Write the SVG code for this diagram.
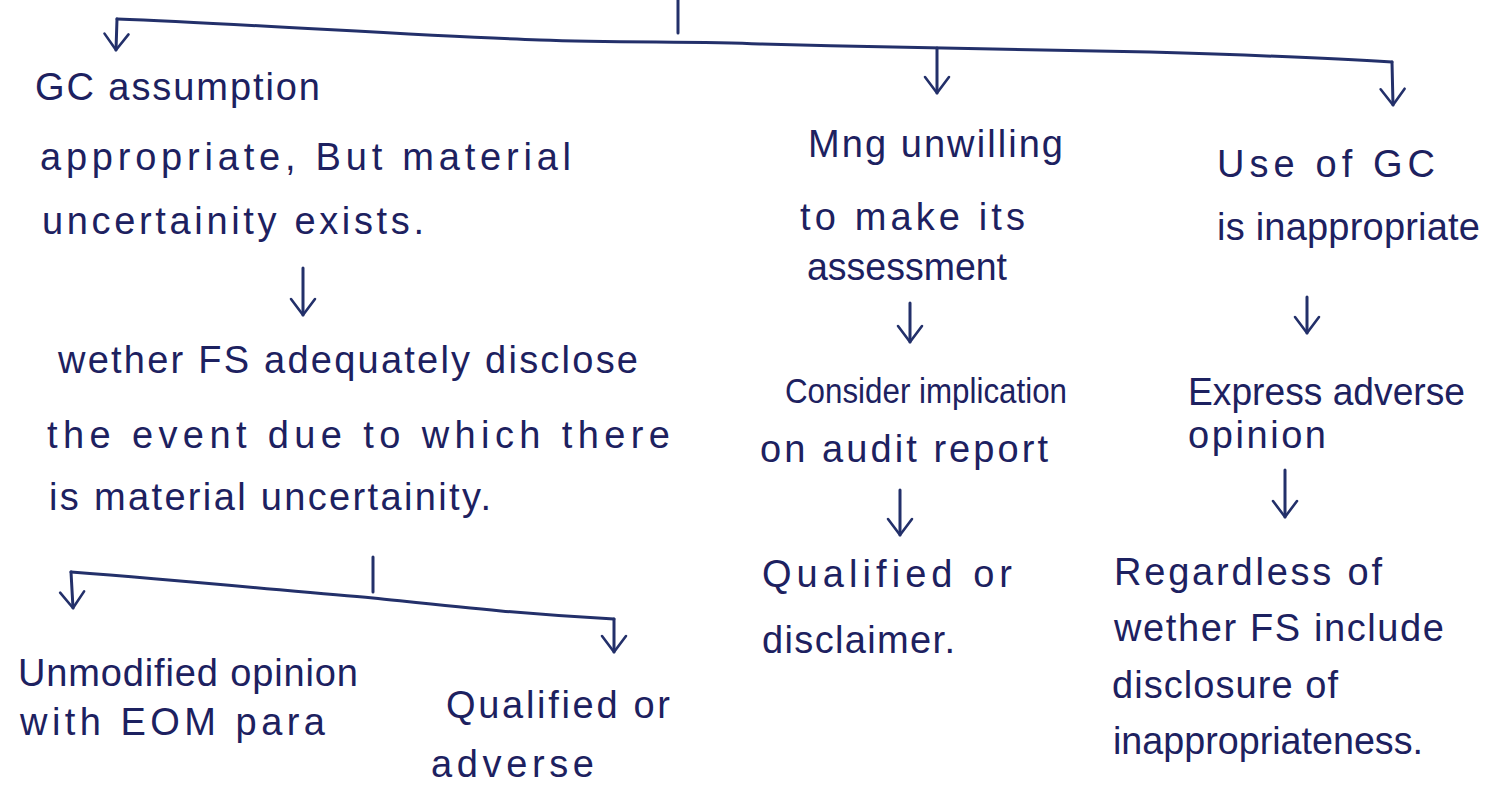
<svg xmlns="http://www.w3.org/2000/svg" width="1486" height="804" viewBox="0 0 1486 804">
<style>
text{font-family:"Liberation Sans",Arial,sans-serif;font-size:38px;fill:#1d2160;}
.sq{font-size:35px;}
.ln{fill:none;stroke:#23306a;stroke-width:3;stroke-linecap:round;stroke-linejoin:round;}
.ar{fill:none;stroke:#23306a;stroke-width:3;stroke-linecap:round;marker-end:url(#ah);}
</style>
<defs>
<marker id="ah" viewBox="-20 -15 22 30" markerWidth="22" markerHeight="30" refX="0" refY="0" orient="auto" markerUnits="userSpaceOnUse">
<path d="M-16,-12 L0,0 L-16,12" fill="none" stroke="#23306a" stroke-width="2.6" stroke-linecap="round" stroke-linejoin="round"/>
</marker>
</defs>
<rect width="1486" height="804" fill="#ffffff"/>
<g id="connectors">
<path class="ln" d="M678,0 L678,33"/>
<path class="ln" d="M117,19 C250,24 420,36 540,40 C620,43 700,41 760,44 C900,48 1050,50 1150,52 C1250,55 1330,58 1392,62"/>
<path class="ar" d="M117,19 L116,50"/>
<path class="ar" d="M937,48 L937,93"/>
<path class="ar" d="M1392,62 L1393,105"/>
<path class="ar" d="M303,268 L303,315"/>
<path class="ln" d="M373,557 L373,592"/>
<path class="ln" d="M71,572 C200,582 300,592 373,598 C450,606 520,614 614,619"/>
<path class="ar" d="M71,572 L73,608"/>
<path class="ar" d="M614,619 L614,652"/>
<path class="ar" d="M910,303 L910,342"/>
<path class="ar" d="M900,490 L900,535"/>
<path class="ar" d="M1307,297 L1307,333"/>
<path class="ar" d="M1285,470 L1285,517"/>
</g>
<g id="n-gc-appropriate">
<text x="35" y="100" textLength="285" lengthAdjust="spacing">GC assumption</text>
<text x="40" y="170" textLength="531" lengthAdjust="spacing">appropriate, But material</text>
<text x="42" y="234" textLength="382" lengthAdjust="spacing">uncertainity exists.</text>
</g>
<g id="n-wether-disclose">
<text x="58" y="373" textLength="580" lengthAdjust="spacing">wether FS adequately disclose</text>
<text x="47" y="448" textLength="623" lengthAdjust="spacing">the event due to which there</text>
<text x="49" y="510" textLength="442" lengthAdjust="spacing">is material uncertainity.</text>
</g>
<g id="n-unmodified">
<text x="18" y="686" textLength="340" lengthAdjust="spacing">Unmodified opinion</text>
<text x="20" y="735" textLength="305" lengthAdjust="spacing">with EOM para</text>
</g>
<g id="n-qualified-adverse">
<text x="446" y="718" textLength="224" lengthAdjust="spacing">Qualified or</text>
<text x="431" y="777" textLength="163" lengthAdjust="spacing">adverse</text>
</g>
<g id="n-mng-unwilling">
<text x="808" y="157" textLength="255" lengthAdjust="spacing">Mng unwilling</text>
<text x="800" y="230" textLength="225" lengthAdjust="spacing">to make its</text>
<text x="807" y="280" textLength="200" lengthAdjust="spacingAndGlyphs">assessment</text>
</g>
<g id="n-consider">
<text class="sq" x="785" y="403" textLength="282" lengthAdjust="spacingAndGlyphs">Consider implication</text>
<text x="760" y="462" textLength="288" lengthAdjust="spacing">on audit report</text>
</g>
<g id="n-qualified-disclaimer">
<text x="762" y="587" textLength="250" lengthAdjust="spacing">Qualified or</text>
<text x="762" y="653" textLength="193" lengthAdjust="spacing">disclaimer.</text>
</g>
<g id="n-use-gc">
<text x="1217" y="177" textLength="218" lengthAdjust="spacing">Use of GC</text>
<text x="1217" y="240" textLength="263" lengthAdjust="spacing">is inappropriate</text>
</g>
<g id="n-express-adverse">
<text x="1188" y="405" textLength="277" lengthAdjust="spacingAndGlyphs">Express adverse</text>
<text x="1188" y="448" textLength="138" lengthAdjust="spacing">opinion</text>
</g>
<g id="n-regardless">
<text x="1114" y="585" textLength="268" lengthAdjust="spacing">Regardless of</text>
<text x="1114" y="641" textLength="330" lengthAdjust="spacing">wether FS include</text>
<text x="1112" y="698" textLength="226" lengthAdjust="spacing">disclosure of</text>
<text x="1113" y="754" textLength="310" lengthAdjust="spacingAndGlyphs">inappropriateness.</text>
</g>
</svg>
